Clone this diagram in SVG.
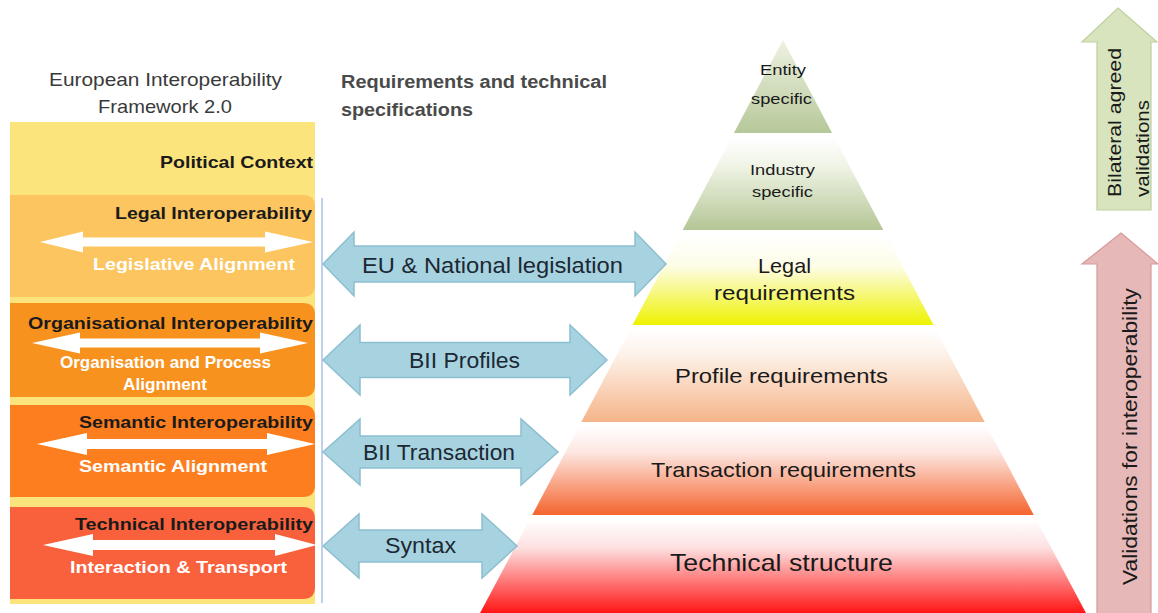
<svg xmlns="http://www.w3.org/2000/svg" width="1158" height="613" viewBox="0 0 1158 613">
<style>
text{font-family:"Liberation Sans",Arial,sans-serif}
.ttl{font-size:18.5px;fill:#3a3a3a}
.req{font-size:18px;font-weight:bold;fill:#4a4a4a}
.bk{font-size:17px;font-weight:bold;fill:#1a1a1a}
.wh{font-size:17px;font-weight:bold;fill:#ffffff}
.ba{font-size:22px;fill:#1c2833}
.py{fill:#1a1a1a}
.barrow{fill:#a7d3e1;stroke:#8cbfd0;stroke-width:1.5}
.warrow{fill:#ffffff}
</style>
<defs>
<linearGradient id="gEnt" x1="0" y1="0" x2="0" y2="1"><stop offset="0" stop-color="#eef2e2"/><stop offset="1" stop-color="#b6c899"/></linearGradient>
<linearGradient id="gInd" x1="0" y1="0" x2="0" y2="1"><stop offset="0" stop-color="#ffffff"/><stop offset="0.3" stop-color="#f0f4e6"/><stop offset="1" stop-color="#b4c695"/></linearGradient>
<linearGradient id="gLeg" x1="0" y1="0" x2="0" y2="1"><stop offset="0" stop-color="#ffffff"/><stop offset="0.35" stop-color="#fdfde8"/><stop offset="1" stop-color="#eef200"/></linearGradient>
<linearGradient id="gPro" x1="0" y1="0" x2="0" y2="1"><stop offset="0" stop-color="#ffffff"/><stop offset="0.3" stop-color="#fdf0e6"/><stop offset="1" stop-color="#f5b489"/></linearGradient>
<linearGradient id="gTra" x1="0" y1="0" x2="0" y2="1"><stop offset="0" stop-color="#ffffff"/><stop offset="0.3" stop-color="#fde6e0"/><stop offset="1" stop-color="#f4642e"/></linearGradient>
<linearGradient id="gTec" x1="0" y1="0" x2="0" y2="1"><stop offset="0" stop-color="#ffffff"/><stop offset="0.3" stop-color="#fde0e0"/><stop offset="1" stop-color="#ff1515"/></linearGradient>
</defs>

<!-- Titles -->
<g id="titles">
<text class="ttl" x="49" y="86" textLength="233" lengthAdjust="spacingAndGlyphs">European Interoperability</text>
<text class="ttl" x="98" y="113" textLength="134" lengthAdjust="spacingAndGlyphs">Framework 2.0</text>
<text class="req" x="341" y="88" textLength="266" lengthAdjust="spacingAndGlyphs">Requirements and technical</text>
<text class="req" x="341" y="116" textLength="132" lengthAdjust="spacingAndGlyphs">specifications</text>
</g>

<!-- Left framework panel -->
<g id="eif-panel">
<rect x="10" y="122" width="305" height="482" fill="#fce47c"/>
<text class="bk" x="160" y="168" textLength="153" lengthAdjust="spacingAndGlyphs">Political Context</text>
</g>
<g id="legal-interop">
<path d="M10,195 H303 Q315,195 315,207 V285 Q315,297 303,297 H10 Z" fill="#fcc55f"/>
<text class="bk" x="115" y="219" textLength="197" lengthAdjust="spacingAndGlyphs">Legal Interoperability</text>
<path class="warrow" d="M40,242 L83,231.5 L83,237.5 L265,237.5 L265,231.5 L313,242 L265,252.5 L265,246.5 L83,246.5 L83,252.5 Z"/>
<text class="wh" x="93" y="270" textLength="202" lengthAdjust="spacingAndGlyphs">Legislative Alignment</text>
</g>
<g id="org-interop">
<path d="M10,303 H303 Q315,303 315,315 V385 Q315,397 303,397 H10 Z" fill="#f8921f"/>
<text class="bk" x="28" y="329" textLength="285" lengthAdjust="spacingAndGlyphs">Organisational Interoperability</text>
<path class="warrow" d="M32,343 L80,332.5 L80,338.5 L260,338.5 L260,332.5 L308,343 L260,353.5 L260,347.5 L80,347.5 L80,353.5 Z"/>
<text class="wh" x="60" y="368" textLength="211" lengthAdjust="spacingAndGlyphs">Organisation and Process</text>
<text class="wh" x="123" y="390" textLength="84" lengthAdjust="spacingAndGlyphs">Alignment</text>
</g>
<g id="semantic-interop">
<path d="M10,405 H303 Q315,405 315,417 V485 Q315,497 303,497 H10 Z" fill="#fd7e1e"/>
<text class="bk" x="79" y="428" textLength="234" lengthAdjust="spacingAndGlyphs">Semantic Interoperability</text>
<path class="warrow" d="M37,444 L87,433 L87,439 L267,439 L267,433 L315,444 L267,455 L267,449 L87,449 L87,455 Z"/>
<text class="wh" x="79" y="472" textLength="188" lengthAdjust="spacingAndGlyphs">Semantic Alignment</text>
</g>
<g id="technical-interop">
<path d="M10,507 H303 Q315,507 315,519 V587 Q315,599 303,599 H10 Z" fill="#f9603c"/>
<text class="bk" x="75" y="530" textLength="238" lengthAdjust="spacingAndGlyphs">Technical Interoperability</text>
<path class="warrow" d="M43,545 L93,534 L93,540 L275,540 L275,534 L317,545 L275,556 L275,550 L93,550 L93,556 Z"/>
<text class="wh" x="70" y="573" textLength="217" lengthAdjust="spacingAndGlyphs">Interaction &amp; Transport</text>
</g>

<!-- Pyramid -->
<g id="entity-specific">
<polygon points="783,40 832.1,133 733.9,133" fill="url(#gEnt)"/>
<text class="py" x="760" y="75" font-size="15" textLength="46" lengthAdjust="spacingAndGlyphs">Entity</text>
<text class="py" x="751" y="104" font-size="15" textLength="61" lengthAdjust="spacingAndGlyphs">specific</text>
</g>
<g id="industry-specific">
<polygon points="731.3,138 834.7,138 883.3,230 682.7,230" fill="url(#gInd)"/>
<text class="py" x="750" y="175" font-size="15" textLength="65" lengthAdjust="spacingAndGlyphs">Industry</text>
<text class="py" x="752" y="197" font-size="15" textLength="61" lengthAdjust="spacingAndGlyphs">specific</text>
</g>
<g id="legal-requirements">
<polygon points="680.6,234 885.4,234 933.5,325 632.5,325" fill="url(#gLeg)"/>
<text class="py" x="758" y="273" font-size="21" textLength="53" lengthAdjust="spacingAndGlyphs">Legal</text>
<text class="py" x="714" y="300" font-size="21" textLength="141" lengthAdjust="spacingAndGlyphs">requirements</text>
</g>
<g id="profile-requirements">
<polygon points="630.4,329 935.6,329 984.7,422 581.3,422" fill="url(#gPro)"/>
<text class="py" x="675" y="383" font-size="21" textLength="213" lengthAdjust="spacingAndGlyphs">Profile requirements</text>
</g>
<g id="transaction-requirements">
<polygon points="579.2,426 986.8,426 1033.8,515 532.2,515" fill="url(#gTra)"/>
<text class="py" x="651" y="477" font-size="21" textLength="265" lengthAdjust="spacingAndGlyphs">Transaction requirements</text>
</g>
<g id="technical-structure">
<polygon points="529.6,520 1036.4,520 1086,613 480,613" fill="url(#gTec)"/>
<text class="py" x="670" y="571" font-size="24" textLength="223" lengthAdjust="spacingAndGlyphs">Technical structure</text>
</g>

<!-- Right validation arrows -->
<g id="bilateral-validations">
<path d="M1118,8 L1157,42 L1151,42 L1151,210 L1097,210 L1097,42 L1082,42 Z" fill="#d7e4be" stroke="#bfd19e" stroke-width="1.2"/>
<text x="1121" y="197" font-size="18" fill="#1a1a1a" transform="rotate(-90 1121 197)" textLength="149" lengthAdjust="spacingAndGlyphs">Bilateral agreed</text>
<text x="1149" y="197" font-size="18" fill="#1a1a1a" transform="rotate(-90 1149 197)" textLength="97" lengthAdjust="spacingAndGlyphs">validations</text>
</g>
<g id="interop-validations">
<path d="M1121,233 L1158,264 L1151,264 L1151,614 L1097,614 L1097,264 L1082,264 Z" fill="#e6b9b8" stroke="#d59a98" stroke-width="1.2"/>
<text x="1137" y="585" font-size="20" fill="#1a1a1a" transform="rotate(-90 1137 585)" textLength="297" lengthAdjust="spacingAndGlyphs">Validations for interoperability</text>
</g>

<!-- Connectors -->
<g id="connectors">
<line x1="322" y1="198" x2="322" y2="603" stroke="#a8c0e6" stroke-width="1.5"/>
<path class="barrow" d="M323,264 L354,232 L354,246 L635,246 L635,232 L666,264 L635,296 L635,282 L354,282 L354,296 Z"/>
<text class="ba" x="362" y="273" textLength="261" lengthAdjust="spacingAndGlyphs">EU &amp; National legislation</text>
<path class="barrow" d="M323,360 L360,325 L360,342.5 L570,342.5 L570,325 L607,360 L570,395 L570,377.5 L360,377.5 L360,395 Z"/>
<text class="ba" x="409" y="368" textLength="111" lengthAdjust="spacingAndGlyphs">BII Profiles</text>
<path class="barrow" d="M323,452 L360,419 L360,436 L521,436 L521,419 L558,452 L521,485 L521,468 L360,468 L360,485 Z"/>
<text class="ba" x="363" y="460" textLength="152" lengthAdjust="spacingAndGlyphs">BII Transaction</text>
<path class="barrow" d="M323,546 L359,514 L359,530 L482,530 L482,514 L517,546 L482,578 L482,562 L359,562 L359,578 Z"/>
<text class="ba" x="385" y="553" textLength="71" lengthAdjust="spacingAndGlyphs">Syntax</text>
</g>
</svg>
